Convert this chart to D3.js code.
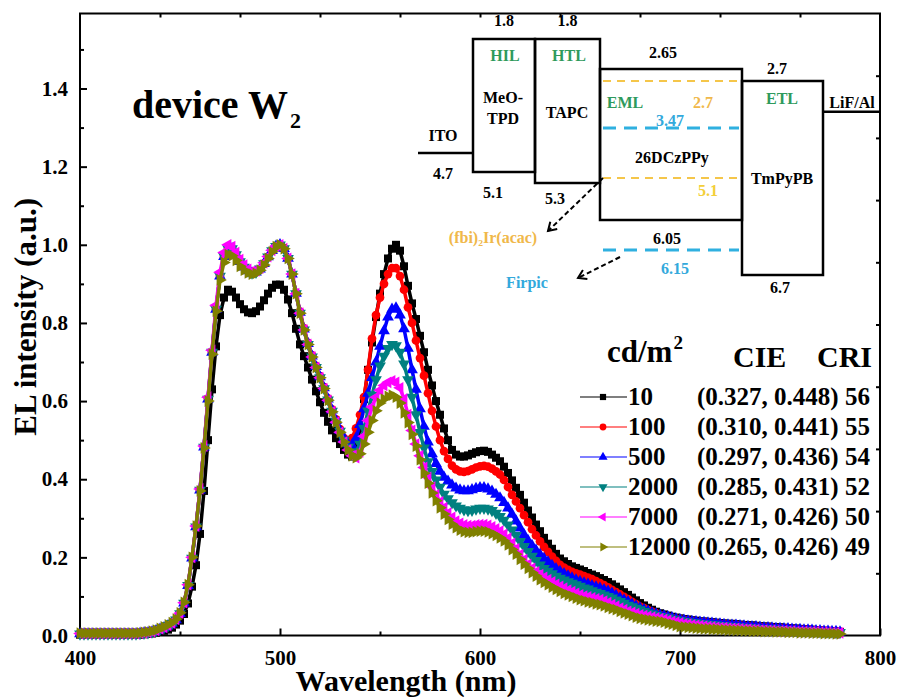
<!DOCTYPE html>
<html>
<head>
<meta charset="utf-8">
<script src="https://cdn.jsdelivr.net/npm/d3@7"></script>
<style>
  body { margin: 0; background: #fff; }
  svg { display: block; font-family: "Liberation Serif", "Times New Roman", serif; }
</style>
</head>
<body>
<svg id="chart" width="898" height="697"></svg>
<script>
// wavelength grid (nm), one reading every 2 nm
var wavelengths = d3.range(400, 781, 2);

var luminance = ["10", "100", "500", "2000", "7000", "12000"];
var cieCri = ["(0.327, 0.448) 56", "(0.310, 0.441) 55", "(0.297, 0.436) 54",
              "(0.285, 0.431) 52", "(0.271, 0.426) 50", "(0.265, 0.426) 49"];
var seriesColors = ["#000000", "#ff0000", "#0000ff", "#008080", "#ff00ff", "#808000"];

var xTicks = [400, 500, 600, 700, 800];
var xMinor = [450, 550, 650, 750];
var yTicks = [0, 0.2, 0.4, 0.6, 0.8, 1.0, 1.2, 1.4];
var yMinor = [0.1, 0.3, 0.5, 0.7, 0.9, 1.1, 1.3, 1.5];

// EL spectra
var el10 = [
  0.002,0.002,0.002,0.002,0.002,0.002,0.002,0.002,0.002,0.002,0.002,0.002,0.002,0.002,0.002,
  0.002,0.003,0.004,0.005,0.007,0.01,0.012,0.015,0.02,0.028,0.038,0.055,0.082,0.125,0.18,0.26,0.37,0.5,0.63,0.74,0.82,
  0.865,0.885,0.88,0.865,0.848,0.835,0.827,0.825,0.83,0.842,0.858,0.875,0.89,0.898,0.898,0.885,0.86,0.825,0.785,0.745,0.715,0.686,0.655,0.625,0.597,0.57,0.547,0.525,0.505,0.49,
  0.475,0.463,0.458,0.48,0.53,0.605,0.68,0.75,0.815,0.875,0.925,0.965,0.99,1.0,0.985,0.945,0.895,0.85,0.81,0.767,0.725,0.68,0.64,0.6,0.565,0.53,0.5,0.475,0.463,0.458,
  0.458,0.461,0.465,0.469,0.472,0.473,0.47,0.463,0.455,0.446,0.432,0.416,0.397,0.378,0.36,0.34,0.32,0.302,0.284,0.267,0.25,0.235,0.222,0.209,0.197,0.19,0.183,0.177,0.173,0.169,
  0.165,0.16,0.156,0.152,0.147,0.142,0.137,0.131,0.125,0.118,0.111,0.104,0.097,0.09,0.083,0.077,0.071,0.066,0.061,0.057,0.054,0.051,0.048,0.046,0.044,0.042,0.041,0.039,0.038,0.036,
  0.036,0.035,0.034,0.033,0.032,0.031,0.03,0.03,0.029,0.028,0.027,0.026,0.026,0.025,0.024,0.023,0.023,0.022,0.021,0.021,0.02,0.019,0.018,0.018,0.017,0.016,0.015,0.015,0.014,0.013,0.012,0.012,0.011,0.01,0.009
];
var el100 = [
  0.004,0.004,0.004,0.004,0.004,0.004,0.004,0.004,0.004,0.004,0.004,0.004,0.004,0.004,0.004,
  0.005,0.006,0.007,0.009,0.012,0.016,0.02,0.025,0.031,0.04,0.056,0.083,0.128,0.198,0.278,0.372,0.482,0.605,0.725,0.835,0.92,
  0.97,0.99,0.99,0.975,0.957,0.943,0.933,0.928,0.93,0.938,0.952,0.969,0.985,0.996,1.0,0.99,0.965,0.925,0.877,0.829,0.786,0.749,0.717,0.69,0.664,0.636,0.607,0.579,0.553,0.528,
  0.505,0.495,0.505,0.53,0.565,0.61,0.68,0.76,0.82,0.865,0.9,0.925,0.94,0.94,0.92,0.885,0.84,0.8,0.755,0.71,0.665,0.62,0.575,0.535,0.5,0.472,0.452,0.435,0.425,0.42,
  0.419,0.421,0.425,0.43,0.433,0.434,0.432,0.427,0.42,0.412,0.398,0.38,0.36,0.343,0.326,0.308,0.29,0.272,0.256,0.241,0.227,0.214,0.202,0.191,0.181,0.174,0.168,0.163,0.159,0.156,
  0.152,0.148,0.144,0.139,0.134,0.129,0.123,0.117,0.111,0.105,0.099,0.093,0.086,0.08,0.074,0.07,0.065,0.061,0.057,0.053,0.05,0.048,0.045,0.043,0.041,0.04,0.038,0.037,0.035,0.034,
  0.034,0.033,0.032,0.031,0.03,0.029,0.028,0.027,0.027,0.026,0.025,0.024,0.023,0.023,0.022,0.021,0.021,0.02,0.019,0.019,0.018,0.018,0.017,0.016,0.016,0.015,0.015,0.014,0.013,0.013,0.012,0.012,0.011,0.011,0.01
];
var el500 = [
  0.004,0.004,0.004,0.004,0.004,0.004,0.004,0.004,0.004,0.004,0.004,0.004,0.004,0.004,0.004,
  0.005,0.006,0.007,0.009,0.012,0.016,0.02,0.025,0.031,0.04,0.056,0.083,0.128,0.198,0.278,0.372,0.482,0.605,0.725,0.835,0.92,
  0.97,0.99,0.99,0.975,0.957,0.943,0.933,0.928,0.93,0.938,0.952,0.969,0.985,0.996,1.0,0.99,0.965,0.925,0.876,0.827,0.784,0.747,0.715,0.688,0.662,0.634,0.605,0.577,0.55,0.525,
  0.505,0.49,0.487,0.505,0.54,0.58,0.62,0.66,0.7,0.74,0.78,0.815,0.835,0.838,0.82,0.785,0.735,0.68,0.63,0.58,0.535,0.495,0.465,0.44,0.42,0.405,0.395,0.385,0.377,0.372,
  0.37,0.37,0.373,0.376,0.378,0.378,0.375,0.369,0.361,0.352,0.34,0.326,0.31,0.293,0.275,0.258,0.243,0.23,0.218,0.207,0.197,0.188,0.179,0.171,0.164,0.158,0.152,0.147,0.142,0.138,
  0.134,0.131,0.127,0.124,0.121,0.117,0.113,0.108,0.102,0.096,0.091,0.086,0.08,0.075,0.07,0.066,0.062,0.058,0.055,0.052,0.05,0.047,0.045,0.042,0.04,0.039,0.037,0.036,0.035,0.034,
  0.033,0.032,0.031,0.03,0.029,0.028,0.027,0.026,0.026,0.025,0.024,0.023,0.022,0.022,0.021,0.02,0.02,0.019,0.018,0.018,0.017,0.017,0.016,0.015,0.015,0.014,0.014,0.013,0.012,0.012,0.011,0.011,0.01,0.01,0.009
];
var el2000 = [
  0.004,0.004,0.004,0.004,0.004,0.004,0.004,0.004,0.004,0.004,0.004,0.004,0.004,0.004,0.004,
  0.005,0.006,0.007,0.009,0.012,0.016,0.02,0.025,0.031,0.04,0.056,0.083,0.128,0.198,0.278,0.372,0.482,0.605,0.725,0.835,0.92,
  0.97,0.99,0.99,0.975,0.957,0.943,0.933,0.928,0.93,0.938,0.952,0.969,0.985,0.996,1.0,0.99,0.965,0.925,0.875,0.825,0.782,0.745,0.713,0.686,0.66,0.632,0.603,0.574,0.548,0.523,
  0.5,0.482,0.47,0.47,0.49,0.53,0.575,0.615,0.655,0.69,0.715,0.735,0.745,0.742,0.725,0.695,0.655,0.61,0.565,0.52,0.48,0.445,0.42,0.398,0.38,0.362,0.35,0.34,0.332,0.326,
  0.322,0.32,0.321,0.324,0.326,0.326,0.324,0.32,0.313,0.305,0.295,0.283,0.27,0.256,0.241,0.228,0.215,0.203,0.192,0.181,0.172,0.165,0.158,0.152,0.147,0.142,0.138,0.134,0.13,0.126,
  0.122,0.119,0.115,0.111,0.108,0.104,0.1,0.096,0.091,0.087,0.083,0.078,0.074,0.07,0.066,0.062,0.058,0.055,0.052,0.049,0.047,0.045,0.042,0.04,0.038,0.036,0.035,0.033,0.032,0.031,
  0.03,0.029,0.028,0.027,0.026,0.025,0.024,0.023,0.022,0.022,0.021,0.02,0.019,0.019,0.018,0.017,0.017,0.016,0.016,0.015,0.015,0.014,0.014,0.013,0.013,0.012,0.012,0.011,0.011,0.01,0.01,0.009,0.009,0.008,0.008
];
var el7000 = [
  0.005,0.005,0.005,0.005,0.005,0.005,0.005,0.005,0.005,0.005,0.005,0.005,0.005,0.005,0.005,
  0.006,0.007,0.008,0.01,0.013,0.017,0.021,0.026,0.032,0.041,0.057,0.084,0.13,0.2,0.28,0.375,0.485,0.61,0.73,0.845,0.93,
  0.98,1.0,0.995,0.98,0.962,0.948,0.937,0.932,0.933,0.94,0.954,0.97,0.986,0.997,1.0,0.99,0.965,0.925,0.875,0.825,0.782,0.745,0.713,0.686,0.66,0.632,0.602,0.573,0.546,0.52,
  0.495,0.475,0.46,0.455,0.47,0.51,0.55,0.585,0.61,0.628,0.64,0.648,0.652,0.648,0.634,0.605,0.565,0.525,0.49,0.46,0.43,0.405,0.38,0.36,0.342,0.327,0.313,0.302,0.293,0.287,
  0.283,0.281,0.281,0.283,0.284,0.284,0.282,0.278,0.273,0.267,0.259,0.249,0.236,0.222,0.207,0.194,0.182,0.172,0.163,0.156,0.149,0.143,0.137,0.131,0.126,0.121,0.116,0.112,0.108,0.104,
  0.101,0.099,0.096,0.094,0.092,0.088,0.084,0.079,0.075,0.07,0.066,0.062,0.059,0.056,0.053,0.051,0.049,0.047,0.045,0.043,0.041,0.039,0.036,0.034,0.032,0.03,0.029,0.027,0.026,0.025,
  0.024,0.023,0.022,0.021,0.02,0.02,0.019,0.018,0.018,0.017,0.016,0.016,0.015,0.015,0.014,0.014,0.013,0.013,0.012,0.012,0.012,0.011,0.011,0.01,0.01,0.01,0.009,0.009,0.009,0.008,0.008,0.008,0.007,0.007,0.007
];
var el12000 = [
  0.006,0.006,0.006,0.006,0.006,0.006,0.006,0.006,0.006,0.006,0.006,0.006,0.006,0.006,0.006,
  0.007,0.008,0.009,0.011,0.014,0.018,0.022,0.027,0.033,0.042,0.058,0.085,0.13,0.2,0.28,0.37,0.48,0.6,0.72,0.83,0.91,
  0.955,0.975,0.972,0.96,0.945,0.935,0.928,0.925,0.927,0.935,0.948,0.965,0.982,0.995,1.0,0.99,0.965,0.925,0.875,0.825,0.782,0.745,0.713,0.686,0.66,0.632,0.602,0.573,0.546,0.52,
  0.495,0.475,0.46,0.455,0.465,0.49,0.52,0.55,0.575,0.595,0.605,0.612,0.615,0.61,0.595,0.57,0.545,0.515,0.485,0.45,0.415,0.39,0.365,0.345,0.327,0.311,0.297,0.285,0.276,0.27,
  0.266,0.264,0.264,0.266,0.267,0.267,0.265,0.261,0.256,0.25,0.242,0.232,0.22,0.208,0.195,0.183,0.172,0.161,0.152,0.143,0.136,0.13,0.124,0.118,0.113,0.108,0.104,0.1,0.096,0.092,
  0.089,0.086,0.084,0.081,0.079,0.076,0.072,0.069,0.066,0.062,0.058,0.055,0.051,0.047,0.044,0.042,0.04,0.039,0.037,0.036,0.034,0.031,0.029,0.026,0.023,0.022,0.021,0.02,0.019,0.018,
  0.017,0.017,0.016,0.016,0.015,0.015,0.014,0.014,0.013,0.013,0.012,0.012,0.011,0.011,0.011,0.01,0.01,0.01,0.009,0.009,0.009,0.008,0.008,0.008,0.007,0.007,0.007,0.006,0.006,0.006,0.005,0.005,0.005,0.004,0.004
];
var spectra = [el10, el100, el500, el2000, el7000, el12000];

// energy level diagram (eV)
var hostLayers = ["MeO-TPD", "TAPC", "26DCzPPy", "TmPyPB"];
var layerLumo = [1.8, 1.8, 2.65, 2.7];
var layerHomo = [5.1, 5.3, 6.05, 6.7];
var itoLevel = 4.7;
var dopantNames = ["(fbi)\u2082Ir(acac)", "Firpic"];
var dopantLumo = [2.7, 3.47];
var dopantHomo = [5.1, 6.15];

var svg = d3.select("#chart");
var x = d3.scaleLinear().domain([400, 800]).range([80, 880]);
var y = d3.scaleLinear().domain([0, 1.592]).range([635.5, 13.5]);
var yMirror = d3.scaleLinear().domain([0, 10]).range([635.5, 13.5]);

function styleAxis(g) {
  g.attr("font-family", null).attr("font-size", 21).attr("font-weight", "bold");
  g.select(".domain").remove();
  g.selectAll(".tick line").attr("stroke-width", 2);
}

// bottom axis
var gx = svg.append("g").attr("transform", "translate(0,635.5)")
  .call(d3.axisBottom(x).tickValues(xTicks).tickSize(-7).tickFormat(d3.format("d")));
styleAxis(gx);
gx.selectAll("text").attr("y", 29).attr("dy", null);
svg.append("g").attr("transform", "translate(0,635.5)")
  .call(d3.axisBottom(x).tickValues(xMinor).tickSize(-4).tickFormat(""))
  .call(styleAxis);

// left axis
var gy = svg.append("g").attr("transform", "translate(80,0)")
  .call(d3.axisLeft(y).tickValues(yTicks).tickSize(-7).tickPadding(12).tickFormat(d3.format(".1f")));
styleAxis(gy);
svg.append("g").attr("transform", "translate(80,0)")
  .call(d3.axisLeft(y).tickValues(yMinor).tickSize(-4).tickFormat(""))
  .call(styleAxis);

// mirror ticks top / right
svg.append("g").attr("transform", "translate(0,13.5)")
  .call(d3.axisTop(x).tickValues(d3.range(440, 800, 40)).tickSize(-4).tickFormat(""))
  .call(styleAxis);
svg.append("g").attr("transform", "translate(880,0)")
  .call(d3.axisRight(yMirror).tickValues(d3.range(1, 10)).tickSize(-4).tickFormat(""))
  .call(styleAxis);

svg.append("rect")
  .attr("x", x(400)).attr("y", y.range()[1])
  .attr("width", x(800) - x(400)).attr("height", y.range()[0] - y.range()[1])
  .attr("fill", "none").attr("stroke", "#000").attr("stroke-width", 2);

// axis titles
svg.append("text")
  .attr("x", 406).attr("y", 691)
  .attr("text-anchor", "middle").attr("font-size", 30).attr("font-weight", "bold")
  .text("Wavelength (nm)");
svg.append("text")
  .attr("transform", "translate(36,198) rotate(-90)")
  .attr("text-anchor", "end").attr("font-size", 31).attr("font-weight", "bold")
  .text("EL intensity (a.u.)");

// series
var symbolTypes = [d3.symbolSquare, d3.symbolCircle, d3.symbolTriangle, d3.symbolTriangle, d3.symbolTriangle, d3.symbolTriangle];
var symbolRot = [0, 0, 0, 180, -90, 90];
var symbolSize = [64, 60, 60, 60, 60, 60];

var line = d3.line()
  .x(function(d) { return x(d[0]); })
  .y(function(d) { return y(d[1]); });

spectra.forEach(function(vals, i) {
  var pts = wavelengths.map(function(w, j) { return [w, vals[j]]; })
    .filter(function(d) { return d[1] != null; });
  var g = svg.append("g");
  // heavy trace under the symbols so the dense markers read as one band
  g.append("path").datum(pts)
    .attr("d", line).attr("fill", "none")
    .attr("stroke", seriesColors[i]).attr("stroke-width", 3.5)
    .attr("stroke-linejoin", "round");
  var sym = d3.symbol().type(symbolTypes[i]).size(symbolSize[i]);
  g.selectAll("path.m").data(pts).enter().append("path")
    .attr("class", "m")
    .attr("d", sym)
    .attr("transform", function(d) {
      return "translate(" + x(d[0]) + "," + y(d[1]) + ") rotate(" + symbolRot[i] + ")";
    })
    .attr("fill", seriesColors[i]);
});

// device label
var dev = svg.append("text")
  .attr("x", 132).attr("y", 118)
  .attr("font-size", 40).attr("font-weight", "bold")
  .text("device W");
dev.append("tspan").attr("font-size", 22).attr("dy", 10).attr("dx", 2).text("2");

// legend
var lg = svg.append("g").attr("font-weight", "bold");
var hdr = lg.append("text").attr("x", 607).attr("y", 362).attr("font-size", 31).text("cd/m");
hdr.append("tspan").attr("font-size", 19).attr("dy", -13).attr("dx", 1).text("2");
lg.append("text").attr("x", 733).attr("y", 367).attr("font-size", 30).text("CIE");
lg.append("text").attr("x", 817).attr("y", 367).attr("font-size", 30).text("CRI");

luminance.forEach(function(lab, i) {
  var by = 405 + i * 30;
  lg.append("line")
    .attr("x1", 580).attr("x2", 627).attr("y1", by - 8).attr("y2", by - 8)
    .attr("stroke", seriesColors[i]).attr("stroke-width", 1.2);
  lg.append("path")
    .attr("d", d3.symbol().type(symbolTypes[i]).size(symbolSize[i] * 0.6))
    .attr("transform", "translate(603," + (by - 8) + ") rotate(" + symbolRot[i] + ")")
    .attr("fill", seriesColors[i]);
  lg.append("text").attr("x", 628).attr("y", by).attr("font-size", 25).text(lab);
  lg.append("text").attr("x", 697).attr("y", by).attr("font-size", 25).text(cieCri[i]);
});

// ---- energy level inset (schematic, not to scale) ----
var eY = d3.scaleLinear()
  .domain([1.8, 2.65, 2.7, 4.7, 5.1, 5.3, 6.05, 6.7])
  .range([39, 69, 81, 153, 172, 183, 220, 275]);
var dY = d3.scaleLinear()
  .domain([2.7, 3.47, 5.1, 6.15])
  .range([81, 128, 178, 250]);
var colEdges = [473, 535, 600, 742, 823];
var inset = svg.append("g");
var green = "#2e9a5c", orange = "#f0b84a", blue = "#33a9dc";

inset.append("line").attr("x1", 418).attr("x2", colEdges[0])
  .attr("y1", eY(itoLevel)).attr("y2", eY(itoLevel))
  .attr("stroke", "#000").attr("stroke-width", 2.5);
inset.append("line").attr("x1", colEdges[4]).attr("x2", 880)
  .attr("y1", 111.7).attr("y2", 111.7)
  .attr("stroke", "#000").attr("stroke-width", 2.5);

hostLayers.forEach(function(n, i) {
  inset.append("rect")
    .attr("x", colEdges[i]).attr("y", eY(layerLumo[i]))
    .attr("width", colEdges[i + 1] - colEdges[i])
    .attr("height", eY(layerHomo[i]) - eY(layerLumo[i]))
    .attr("fill", "none").attr("stroke", "#000").attr("stroke-width", 2.5);
});

// dopant levels (dashed)
[0, 1].forEach(function(i) {
  [dopantLumo[i], dopantHomo[i]].forEach(function(e) {
    inset.append("line")
      .attr("x1", 603).attr("x2", 739)
      .attr("y1", dY(e)).attr("y2", dY(e))
      .attr("stroke", i === 0 ? "#f5c64a" : "#2fb0e0")
      .attr("stroke-width", i === 0 ? 2 : 3)
      .attr("stroke-dasharray", i === 0 ? "8,6" : "13,8");
  });
});

svg.append("defs").append("marker")
  .attr("id", "arr").attr("markerUnits", "userSpaceOnUse")
  .attr("markerWidth", 12).attr("markerHeight", 12)
  .attr("refX", 9).attr("refY", 6).attr("orient", "auto")
  .append("path").attr("d", "M1,1 L9,6 L1,11")
  .attr("fill", "none").attr("stroke", "#000").attr("stroke-width", 2);
inset.append("line").attr("x1", 603).attr("y1", dY(5.1))
  .attr("x2", 548).attr("y2", 231)
  .attr("stroke", "#000").attr("stroke-width", 2).attr("stroke-dasharray", "5,3")
  .attr("marker-end", "url(#arr)");
inset.append("line").attr("x1", 620).attr("y1", dY(6.15) + 7)
  .attr("x2", 578).attr("y2", 278)
  .attr("stroke", "#000").attr("stroke-width", 2).attr("stroke-dasharray", "5,3")
  .attr("marker-end", "url(#arr)");

var insetText = [
  [ (colEdges[0] + colEdges[1]) / 2, eY(layerLumo[0]) - 13, "#000", layerLumo[0].toFixed(1) ],
  [ (colEdges[1] + colEdges[2]) / 2, eY(layerLumo[1]) - 13, "#000", layerLumo[1].toFixed(1) ],
  [ 663, eY(layerLumo[2]) - 11, "#000", "2.65" ],
  [ 777, eY(layerLumo[3]) - 7, "#000", layerLumo[3].toFixed(1) ],
  [ 493, eY(layerHomo[0]) + 26, "#000", layerHomo[0].toFixed(1) ],
  [ 555, eY(layerHomo[1]) + 21, "#000", layerHomo[1].toFixed(1) ],
  [ 667, eY(layerHomo[2]) + 24, "#000", "6.05" ],
  [ 780, eY(layerHomo[3]) + 18, "#000", layerHomo[3].toFixed(1) ],
  [ 443, eY(itoLevel) - 12, "#000", "ITO" ],
  [ 443, eY(itoLevel) + 26, "#000", itoLevel.toFixed(1) ],
  [ 503, 103, "#000", "MeO-" ],
  [ 503, 124, "#000", "TPD" ],
  [ 567, 118, "#000", hostLayers[1] ],
  [ 672, 163, "#000", hostLayers[2] ],
  [ 782, 184, "#000", hostLayers[3] ],
  [ 852, 108, "#000", "LiF/Al" ],
  [ 505, 61, green, "HIL" ],
  [ 569, 61, green, "HTL" ],
  [ 625, 108, green, "EML" ],
  [ 782, 104, green, "ETL" ],
  [ 703, dY(dopantLumo[0]) + 27, orange, dopantLumo[0].toFixed(1) ],
  [ 708, dY(dopantHomo[0]) + 18, "#f3cf3a", dopantHomo[0].toFixed(1) ],
  [ 670, dY(dopantLumo[1]) - 2, blue, dopantLumo[1].toFixed(2) ],
  [ 675, dY(dopantHomo[1]) + 24, blue, dopantHomo[1].toFixed(2) ],
  [ 493, 243, orange, dopantNames[0] ],
  [ 527, 288, blue, dopantNames[1] ]
];
inset.selectAll("text.lbl").data(insetText).enter().append("text")
  .attr("class", "lbl")
  .attr("x", function(d) { return d[0]; })
  .attr("y", function(d) { return d[1]; })
  .attr("fill", function(d) { return d[2]; })
  .attr("font-weight", "bold")
  .attr("font-size", 16)
  .attr("text-anchor", "middle")
  .text(function(d) { return d[3]; });
</script>
</body>
</html>
